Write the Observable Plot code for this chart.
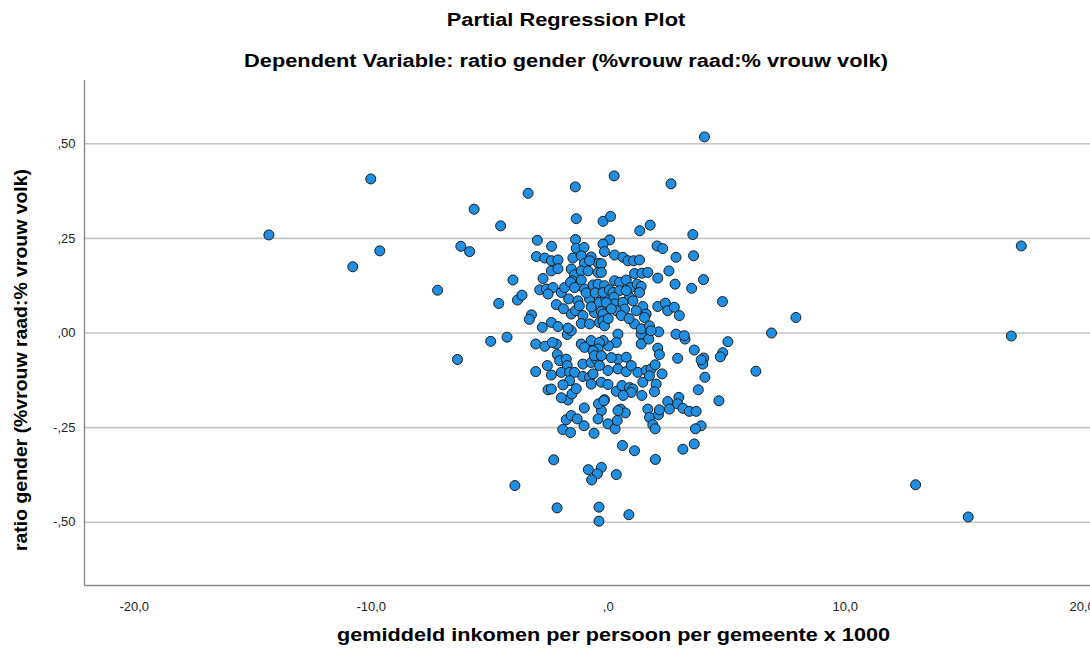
<!DOCTYPE html>
<html><head><meta charset="utf-8">
<script src="https://cdn.jsdelivr.net/npm/d3@7"></script>
<script src="https://cdn.jsdelivr.net/npm/@observablehq/plot@0.6"></script>
<style>
body{margin:0;background:#fff;font-family:"Liberation Sans",Arial,sans-serif;}
#wrap{position:relative;width:1090px;height:661px;overflow:hidden;background:#fff;}
.t{position:absolute;left:0;width:1132px;text-align:center;font-weight:bold;color:#000;
   font-family:"Liberation Sans",Arial,sans-serif;font-size:18px;line-height:21px;
   transform:scaleX(1.21);transform-origin:566px 0;z-index:2;white-space:nowrap;}
#chart{position:absolute;left:0;top:0;z-index:1;}
</style></head><body>
<div id="wrap">
<div class="t" id="title" style="top:10px"></div>
<div class="t" id="subtitle" style="top:51px"></div>
<div id="chart"></div>
</div>
<script>
const title = "Partial Regression Plot";
const subtitle = "Dependent Variable: ratio gender (%vrouw raad:% vrouw volk)";
const xLabel = "gemiddeld inkomen per persoon per gemeente x 1000";
const yLabel = "ratio gender (%vrouw raad:% vrouw volk)";
const xTicks = [-20, -10, 0, 10, 20];
const xTickLabels = ["-20,0", "-10,0", ",0", "10,0", "20,0"];
const yTicks = [-0.5, -0.25, 0, 0.25, 0.5];
const yTickLabels = ["-,50", "-,25", ",00", ",25", ",50"];
const xDomain = [-22.1, 20.35];
const yDomain = [-0.667, 0.667];

// [income residual, ratio residual]
const outerPts = [
[-14.32,0.259],[-10.78,0.175],[-10.02,0.407],[-9.64,0.217],[-7.20,0.113],[-6.36,-0.070],
[-6.22,0.229],[-5.85,0.215],[-5.66,0.327],[-4.96,-0.022],[-4.62,0.078],[-4.54,0.283],
[-4.27,-0.011],[-4.02,0.140],[-3.94,-0.403],[-3.83,0.087],[-3.64,0.100],[-3.38,0.369],
[-3.24,0.048],[-3.33,0.036],[-3.06,-0.029],[-3.06,-0.102],[-2.99,0.245],[-2.68,-0.035],
[-2.39,0.229],[-2.30,-0.335],[-2.16,-0.462],[-1.39,0.386],[-1.35,0.302],[-1.38,0.247],
[0.25,0.415],[2.65,0.394],[4.06,0.518],[-0.22,0.295],[0.10,0.308],[1.33,0.270],
[1.77,0.285],[3.57,0.260],[0.06,0.246],[-0.22,0.235],[2.06,0.230],[2.30,0.223],
[2.86,0.200],[3.60,0.204],[2.56,0.164],[2.09,0.145],[2.82,0.129],[3.52,0.118],
[4.02,0.141],[4.82,0.083],[7.92,0.041],[6.89,0.000],[17.01,-0.008],[17.43,0.230],
[5.05,-0.023],[4.83,-0.052],[4.73,-0.063],[4.03,-0.066],[3.99,-0.082],[4.08,-0.117],
[6.23,-0.101],[4.67,-0.179],[3.80,-0.150],[12.97,-0.401],[15.19,-0.486],[3.92,-0.245],
[3.68,-0.253],[3.63,-0.293],[3.15,-0.307],[1.99,-0.334],[1.11,-0.311],[0.60,-0.297],
[0.34,-0.374],[0.87,-0.480],[-0.29,-0.355],[-0.39,-0.460],[-0.39,-0.497],[-0.84,-0.361],
[-0.46,-0.372],[-0.70,-0.388]
];
const rightCorePts = [
[2.93,-0.067],[3.63,-0.045],[3.92,-0.071],[2.86,-0.003],[3.24,-0.016],[2.13,0.003],
[2.09,-0.040],[2.16,-0.057],[2.27,-0.108],[1.42,-0.165],[2.02,-0.135],[1.95,-0.155],
[2.51,-0.181],[2.98,-0.170],[2.58,-0.201],[2.93,-0.187],[3.15,-0.199],[3.42,-0.207],
[3.71,-0.207],[1.67,-0.201],[1.74,-0.223],[2.12,-0.216],[2.16,-0.203],[1.88,-0.242],
[1.98,-0.253],[1.39,-0.003],[1.74,0.006],[1.39,-0.029],[1.71,-0.016],[0.41,-0.003],
[0.34,-0.025],[0.01,-0.034],[-0.22,-0.020],[0.41,-0.069],[0.76,-0.064],[0.41,-0.095],
[0.76,-0.102],[-0.01,-0.099],[1.25,-0.104],[1.60,-0.099],[1.81,-0.095],[1.98,-0.084],
[1.46,-0.130],[1.74,-0.113],[-0.29,-0.130],[-0.01,-0.136],[0.34,-0.154],[0.58,-0.139],
[0.90,-0.144],[1.04,-0.148],[0.97,-0.157],[-0.16,-0.176],[0.52,-0.201],[0.72,-0.211],
[0.41,-0.205],[-0.01,-0.240],[0.29,-0.253],[0.38,-0.231],[-0.29,-0.205],
[0.13,-0.065],[0.97,-0.086],[0.63,-0.165]
];
const leftLowerPts = [
[-1.01,-0.198],[-0.43,-0.227],[-1.77,-0.229],[-1.56,-0.218],[-1.31,-0.227],[-1.92,-0.255],
[-1.59,-0.263],[-1.02,-0.245],[-0.60,-0.265],[-2.54,-0.150],[-2.40,-0.148],[-1.70,-0.177],
[-1.53,-0.161],[-2.57,-0.086],[-2.40,-0.111],[-2.15,-0.057],[-2.05,-0.073],[-1.77,-0.069],
[-1.73,-0.086],[-1.98,-0.104],[-1.63,-0.104],[-1.42,-0.104],[-2.19,-0.029],[-2.36,-0.025],
[-1.73,-0.004],[-1.56,0.006],[-1.14,-0.029],[-0.85,-0.034],[-0.72,-0.020],[-0.37,-0.025],
[-0.43,-0.042],[-1.07,-0.082],[-0.72,-0.078],[-0.51,-0.069],[-0.37,-0.086],[-1.63,-0.126],
[-1.91,-0.137],[-1.07,-0.115],[-0.79,-0.117],[-0.64,-0.108],[-0.72,-0.135],[-0.41,-0.187],
[-0.18,-0.179],[-1.00,-0.038],[-0.64,-0.047],[-0.58,-0.060],[-0.29,-0.060],
[-1.35,-0.147],[-1.98,-0.171]
];
const upperCorePts = [
[-3.03,0.202],[-2.68,0.198],[-2.40,0.191],[-2.12,0.193],[-1.35,0.224],[-1.02,0.226],
[-1.49,0.198],[-1.14,0.204],[-0.72,0.201],[-0.41,0.184],[-1.00,0.184],[-0.79,0.191],
[-2.40,0.164],[-2.12,0.170],[-1.56,0.169],[-1.42,0.154],[-1.14,0.164],[-0.85,0.164],
[-0.43,0.160],[-2.75,0.144],[-1.52,0.138],[-1.14,0.140],[-2.89,0.114],[-2.61,0.116],
[-2.33,0.120],[-2.54,0.103],[-1.98,0.107],[-1.84,0.120],[-1.59,0.134],[-1.42,0.120],
[-1.00,0.116],[-0.64,0.127],[-0.43,0.129],[-2.19,0.075],[-1.67,0.090],[-1.28,0.085],
[-0.79,0.090],[-0.37,0.081],[-0.13,0.094],[-1.56,0.050],[-1.38,0.059],[-1.07,0.046],
[-0.58,0.054],[-0.29,0.057],[-2.78,0.015],[-2.40,0.028],[-2.12,0.017],[-1.70,0.013],
[-1.14,0.025],[-0.79,0.024],[-0.37,0.028],[-0.93,0.106],[-0.55,0.106],[-1.89,0.064],
[-0.72,0.069],[-1.22,0.072]
];
const upperRightPts = [
[-0.16,0.215],[0.27,0.206],[0.62,0.200],[0.83,0.191],[1.07,0.191],[1.32,0.193],
[-0.29,0.183],[-0.29,0.160],[1.11,0.157],[1.42,0.158],[1.67,0.160],[0.27,0.138],
[0.48,0.134],[0.76,0.140],[0.94,0.120],[1.22,0.129],[1.39,0.123],[1.32,0.107],
[-0.16,0.125],[-0.22,0.107],[0.05,0.114],[0.20,0.107],[0.48,0.112],[0.24,0.094],
[0.90,0.094],[1.04,0.085],[0.27,0.077],[0.62,0.081],[0.69,0.063],[0.34,0.059],
[0.55,0.046],[-0.22,0.050],[-0.22,0.032],[-0.16,0.019],[1.46,0.070],[1.60,0.050],
[1.53,0.041],[2.09,0.070],[2.41,0.079],[2.51,0.059],[2.79,0.068],[3.00,0.046],
[1.11,0.024],[1.39,0.011],[1.74,0.019],[1.81,0.006],[3.21,-0.007],
[-0.08,0.080],[0.13,0.064],[0.76,0.112],[1.18,0.059],[0.00,0.038],[0.88,0.038]
];

const data = [...outerPts, ...rightCorePts, ...leftLowerPts, ...upperCorePts, ...upperRightPts]
  .map(([x, y]) => ({x, y}));

document.getElementById("title").textContent = title;
document.getElementById("subtitle").textContent = subtitle;

const font = '"Liberation Sans", Arial, sans-serif';
const chart = Plot.plot({
  width: 1090,
  height: 661,
  marginTop: 80,
  marginBottom: 76,
  marginLeft: 84,
  marginRight: 0,
  style: {fontFamily: font, background: "white", color: "#222", overflow: "visible"},
  x: {domain: xDomain},
  y: {domain: yDomain},
  marks: [
    Plot.gridY(yTicks, {stroke: "#c6c6c6", strokeOpacity: 1, strokeWidth: 1.6}),
    Plot.ruleX([xDomain[0]], {stroke: "#8a8a8a", strokeWidth: 1.4}),
    Plot.ruleY([yDomain[0]], {stroke: "#8a8a8a", strokeWidth: 1.4}),
    Plot.axisX(xTicks, {tickSize: 0, tickPadding: 16, fontSize: 13, fill: "#222",
      tickFormat: d => xTickLabels[xTicks.indexOf(d)], label: null}),
    Plot.axisY(yTicks, {tickSize: 0, tickPadding: 9, fontSize: 13, fill: "#222",
      tickFormat: d => yTickLabels[yTicks.indexOf(d)], label: null}),
    Plot.text([xLabel], {frameAnchor: "bottom", textAnchor: "middle", dx: 26, dy: 55, fontSize: 18,
      fontWeight: "bold", fill: "#000", className: "xlab"}),
    Plot.text([yLabel], {frameAnchor: "left", textAnchor: "middle", rotate: -90, dx: -63, dy: 27,
      fontSize: 18, fontWeight: "bold", fill: "#000", className: "ylab"}),
    Plot.dot(data, {x: "x", y: "y", r: 5, fill: "#1f8fe3", stroke: "#1b1b1b", strokeWidth: 1, fillOpacity: 1})
  ]
});
d3.select(chart).selectAll(".xlab text").attr("textLength", 553).attr("lengthAdjust", "spacingAndGlyphs");
d3.select(chart).selectAll(".ylab text").attr("textLength", 382).attr("lengthAdjust", "spacingAndGlyphs");
document.getElementById("chart").appendChild(chart);
</script>
</body></html>
